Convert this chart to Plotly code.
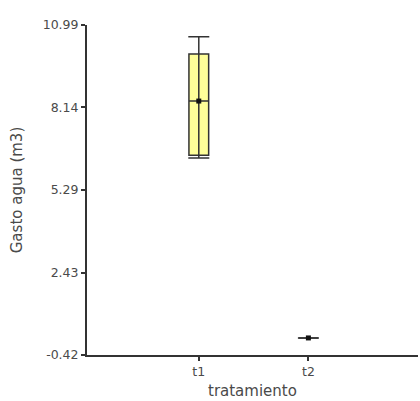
import plotly.graph_objects as go

categories = ["t1", "t2"]
q1 = [6.49, 0.17]
median = [8.36, 0.17]
q3 = [9.99, 0.17]
lower = [6.39, 0.17]
upper = [10.58, 0.17]
means = [8.36, 0.17]
y_ticks = [-0.42, 2.43, 5.29, 8.14, 10.99]
y_tick_labels = ["-0.42", "2.43", "5.29", "8.14", "10.99"]
x_title = "tratamiento"
y_title = "Gasto agua (m3)"

fig = go.Figure()

# whiskers with caps via error bars
fig.add_trace(go.Scatter(
    x=categories, y=median, mode="markers",
    marker=dict(size=1, color="rgba(0,0,0,0)"),
    error_y=dict(type="data", symmetric=False,
                 array=[u - m for u, m in zip(upper, median)],
                 arrayminus=[m - l for m, l in zip(median, lower)],
                 color="#333333", thickness=1.5, width=10.5),
    showlegend=False, hoverinfo="skip"))

fig.add_trace(go.Box(
    x=categories, q1=q1, median=median, q3=q3,
    lowerfence=q1, upperfence=q3,
    fillcolor="#FFFF99", line=dict(color="#333333", width=1.5),
    width=0.18, whiskerwidth=0, showlegend=False))

fig.add_trace(go.Scatter(
    x=categories, y=means, mode="markers",
    marker=dict(symbol="square", size=5, color="#111111"),
    showlegend=False))

tick_font = dict(family="DejaVu Sans, sans-serif", size=12.5, color="#4a4a4a")
title_font = dict(family="DejaVu Sans, sans-serif", size=15, color="#4a4a4a")

fig.update_layout(
    width=420, height=401,
    margin=dict(l=87, r=2, t=25, b=46),
    paper_bgcolor="white", plot_bgcolor="white",
    font=tick_font,
    xaxis=dict(type="category", range=[-1.02, 2.0], automargin=False,
               showline=True, linecolor="#333333", linewidth=2,
               ticks="outside", ticklen=4, tickcolor="#333333", tickwidth=1.5,
               showgrid=False, zeroline=False, tickfont=tick_font),
    yaxis=dict(range=[-0.42, 10.99], tickvals=y_ticks, ticktext=y_tick_labels,
               automargin=False,
               showline=True, linecolor="#333333", linewidth=2,
               ticks="outside", ticklen=4, tickcolor="#333333", tickwidth=1.5,
               showgrid=False, zeroline=False, tickfont=tick_font,
               title=dict(text=y_title, font=title_font, standoff=16)),
    annotations=[dict(text=x_title, xref="paper", yref="paper",
                      x=0.5, y=-0.108, xanchor="center", yanchor="middle",
                      showarrow=False, font=title_font)],
)

fig.write_html("out.html")
